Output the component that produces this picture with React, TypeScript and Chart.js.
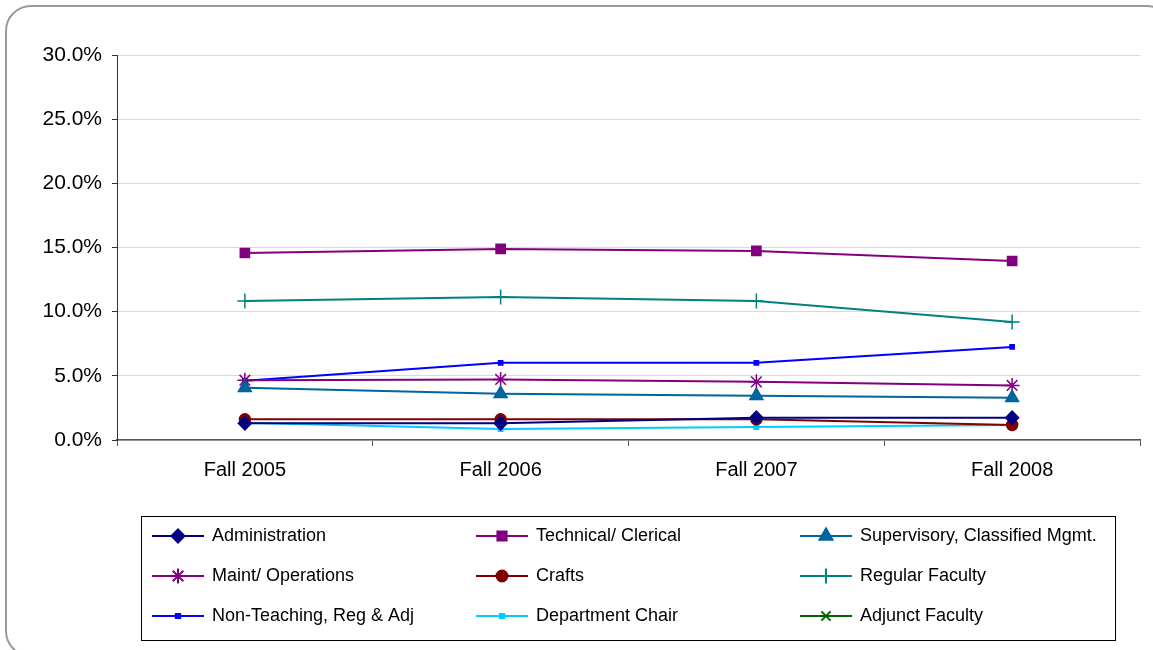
import React, { useEffect, useRef } from "react";
import { Chart, registerables } from "chart.js";
import { drawPoint } from "chart.js/helpers";

Chart.register(...registerables);

const categories = ["Fall 2005", "Fall 2006", "Fall 2007", "Fall 2008"];
const administration = [1.3, 1.3, 1.74, 1.74];
const technicalClerical = [14.57, 14.89, 14.73, 13.95];
const supervisory = [4.07, 3.6, 3.45, 3.29];
const maintOperations = [4.66, 4.72, 4.53, 4.25];
const crafts = [1.61, 1.61, 1.61, 1.17];
const regularFaculty = [10.83, 11.14, 10.83, 9.2];
const nonTeaching = [4.61, 6.01, 6.01, 7.25];
const departmentChair = [1.35, 0.85, 1.01, 1.17];
const adjunctFaculty: (number | null)[] = [null, null, null, null];
const yTicks = [0, 5, 10, 15, 20, 25, 30];

const FONT = "'Liberation Sans', Arial, sans-serif";

const seriesDefs = [
  { label: "Administration", data: administration, color: "#000080", style: "rectRot", r: 6.5 },
  { label: "Technical/ Clerical", data: technicalClerical, color: "#800080", style: "rect", r: 6.5 },
  { label: "Supervisory, Classified Mgmt.", data: supervisory, color: "#00669E", style: "triangle", r: 7.5 },
  { label: "Maint/ Operations", data: maintOperations, color: "#800080", style: "star", r: 7.5 },
  { label: "Crafts", data: crafts, color: "#800000", style: "circle", r: 5.5 },
  { label: "Regular Faculty", data: regularFaculty, color: "#008080", style: "cross", r: 7.5 },
  { label: "Non-Teaching, Reg & Adj", data: nonTeaching, color: "#0000FF", style: "rect", r: 3 },
  { label: "Department Chair", data: departmentChair, color: "#00CCFF", style: "rect", r: 3 },
  { label: "Adjunct Faculty", data: adjunctFaculty, color: "#006400", style: "crossRot", r: 6.5 },
];

const legendPlugin = {
  id: "boxLegend",
  afterDraw(chart: any) {
    const ctx = chart.ctx as CanvasRenderingContext2D;
    const bx = 132, by = 507, bw = 974, bh = 124;
    ctx.save();
    ctx.strokeStyle = "#000";
    ctx.lineWidth = 1;
    ctx.strokeRect(bx + 0.5, by + 0.5, bw, bh);
    const colX = [143, 467, 791];
    const rowY = [527, 567, 607];
    ctx.font = `18px ${FONT}`;
    ctx.textBaseline = "middle";
    ctx.textAlign = "left";
    seriesDefs.forEach((s, i) => {
      const x = colX[i % 3];
      const y = rowY[Math.floor(i / 3)];
      ctx.strokeStyle = s.color;
      ctx.lineWidth = 2;
      ctx.beginPath();
      ctx.moveTo(x, y);
      ctx.lineTo(x + 52, y);
      ctx.stroke();
      ctx.fillStyle = s.color;
      drawPoint(ctx, { pointStyle: s.style, radius: s.r, borderWidth: 1.5, rotation: 0 } as any, x + 26, y);
      ctx.fillStyle = "#000";
      ctx.fillText(s.label, x + 60, y);
    });
    ctx.restore();
  },
};

export default function App() {
  const ref = useRef<HTMLCanvasElement>(null);
  useEffect(() => {
    if (!ref.current) return;
    const chart = new Chart(ref.current, {
      type: "line",
      data: {
        labels: categories,
        datasets: seriesDefs.map((s) => ({
          label: s.label,
          data: s.data,
          borderColor: s.color,
          backgroundColor: s.color,
          pointBackgroundColor: s.color,
          pointBorderColor: s.color,
          pointStyle: s.style as any,
          pointRadius: s.r,
          pointBorderWidth: 1.5,
          borderWidth: 2,
          tension: 0,
          fill: false,
        })),
      },
      options: {
        responsive: false,
        animation: false,
        devicePixelRatio: 1,
        layout: { padding: { left: 0, top: 46, right: 8, bottom: 147 } },
        plugins: { legend: { display: false }, tooltip: { enabled: false } },
        scales: {
          x: {
            offset: true,
            afterFit: (s: any) => { s.height = 60; },
            grid: { drawOnChartArea: false, drawTicks: true, tickLength: 6, offset: true, tickColor: "#555" },
            border: { color: "#555", width: 1.5 },
            ticks: { color: "#000", font: { family: FONT, size: 20 }, padding: 12 },
          },
          y: {
            min: 0,
            max: 30,
            afterFit: (s: any) => { s.width = 108; },
            afterBuildTicks: (s: any) => { s.ticks = yTicks.map((v) => ({ value: v })); },
            grid: { color: "#d9d9d9", lineWidth: 1, drawTicks: true, tickLength: 5, tickColor: "#333" },
            border: { color: "#333", width: 1 },
            ticks: {
              color: "#000",
              font: { family: FONT, size: 21 },
              padding: 10,
              callback: (v: any) => Number(v).toFixed(1) + "%",
            },
          },
        },
      },
      plugins: [legendPlugin],
    });
    return () => chart.destroy();
  }, []);
  return (
    <div style={{ position: "fixed", left: 0, top: 0, width: 1153, height: 650, overflow: "hidden", background: "#fff" }}>
      <div
        style={{
          position: "absolute",
          left: 5,
          top: 5,
          width: 1168,
          height: 652,
          boxSizing: "border-box",
          border: "2px solid #9a9a9a",
          borderRadius: 26,
        }}
      />
      <canvas
        ref={ref}
        width={1140}
        height={638}
        style={{ position: "absolute", left: 9, top: 9, display: "block" }}
      />
    </div>
  );
}
